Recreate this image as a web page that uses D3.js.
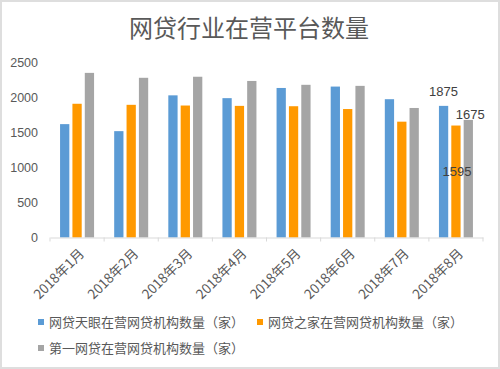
<!DOCTYPE html>
<html><head><meta charset="utf-8">
<script src="https://cdn.jsdelivr.net/npm/d3@7"></script>
<style>body{margin:0;background:#fff}svg{display:block}</style>
</head><body>
<script>
const categories = ["2018年1月","2018年2月","2018年3月","2018年4月","2018年5月","2018年6月","2018年7月","2018年8月"];
const seriesNames = ["网贷天眼在营网贷机构数量（家）","网贷之家在营网贷机构数量（家）","第一网贷在营网贷机构数量（家）"];
const tianyan = [1615,1515,2025,1985,2130,2150,1970,1875];
const zhijia  = [1905,1890,1880,1875,1870,1830,1650,1595];
const diyi    = [2345,2275,2290,2230,2175,2160,1845,1675];
const yTicks = [0,500,1000,1500,2000,2500];
const colors = ["#5B9BD5","#FF9900","#A5A5A5"];
const series = [tianyan, zhijia, diyi];

const W=500,H=369;
const svg=d3.select("body").append("svg").attr("width",W).attr("height",H);
svg.append("rect").attr("x",1).attr("y",1).attr("width",W-2).attr("height",H-2)
  .attr("fill","#fff").attr("stroke","#dedede").attr("stroke-width",2);

const font="'Liberation Sans','DejaVu Sans',sans-serif";
const cjk="'Noto Sans CJK SC','Noto Sans',sans-serif";

svg.append("text").attr("x",249).attr("y",37).attr("text-anchor","middle")
  .attr("font-family",cjk).attr("font-size",24).attr("fill","#595959").text("网贷行业在营平台数量");

const x=d3.scaleBand().domain(categories).range([50,483]).paddingInner(0).paddingOuter(0);
const y=d3.scaleLinear().domain([0,2500]).range([237.5,62]);
const xs=d3.scaleBand().domain([0,1,2]).range([0,34]).paddingInner(0.25);

// y labels
svg.append("g").selectAll("text").data(yTicks).join("text")
  .attr("x",38).attr("y",d=>y(d)+4.5).attr("text-anchor","end")
  .attr("font-family",font).attr("font-size",12.5).attr("fill","#595959").text(d=>d);

// bars
const g=svg.append("g");
categories.forEach((c,i)=>{
  series.forEach((s,j)=>{
    g.append("rect").attr("x",x(c)+(x.bandwidth()-34)/2+xs(j)).attr("y",y(s[i]))
      .attr("width",xs.bandwidth()).attr("height",y(0)-y(s[i])).attr("fill",colors[j]);
  });
});

// x axis
const xa=svg.append("g").attr("transform",`translate(0,${y(0)})`)
  .call(d3.axisBottom(x).tickSize(0).tickFormat(""));
xa.select(".domain").attr("stroke","#d9d9d9");
xa.selectAll(".tick").remove();
const bounds=categories.map(c=>x(c)).concat([x.range()[1]]);
xa.selectAll("line.b").data(bounds).join("line").attr("class","b")
  .attr("x1",d=>d).attr("x2",d=>d).attr("y1",0).attr("y2",4).attr("stroke","#d9d9d9");

svg.append("g").selectAll("text").data(categories).join("text")
  .attr("transform",d=>`translate(${x(d)+x.bandwidth()/2+8},${y(0)+17}) rotate(-45)`)
  .attr("text-anchor","end").attr("font-family",cjk).attr("font-size",13.5).attr("fill","#595959").text(d=>d);

// data labels on last category
const last=categories.length-1, lc=categories[last];
const bx=j=>x(lc)+(x.bandwidth()-34)/2+xs(j)+xs.bandwidth()/2;
svg.append("text").attr("x",bx(0)).attr("y",y(tianyan[last])-10).attr("text-anchor","middle")
  .attr("font-family",font).attr("font-size",13).attr("fill","#404040").text(tianyan[last]);
svg.append("text").attr("x",bx(2)+2).attr("y",y(diyi[last])-1).attr("text-anchor","middle")
  .attr("font-family",font).attr("font-size",13).attr("fill","#404040").text(diyi[last]);
svg.append("text").attr("x",bx(1)+1).attr("y",176).attr("text-anchor","middle")
  .attr("font-family",font).attr("font-size",13).attr("fill","#404040").text(zhijia[last]);

// legend
const leg=[{i:0,x:38,y:322},{i:1,x:257,y:322},{i:2,x:38,y:348}];
leg.forEach(l=>{
  svg.append("rect").attr("x",l.x).attr("y",l.y-3).attr("width",6).attr("height",6).attr("fill",colors[l.i]);
  svg.append("text").attr("x",l.x+11).attr("y",l.y+4.5).attr("font-family",cjk).attr("font-size",13)
    .attr("fill","#595959").text(seriesNames[l.i]);
});
</script>
</body></html>
